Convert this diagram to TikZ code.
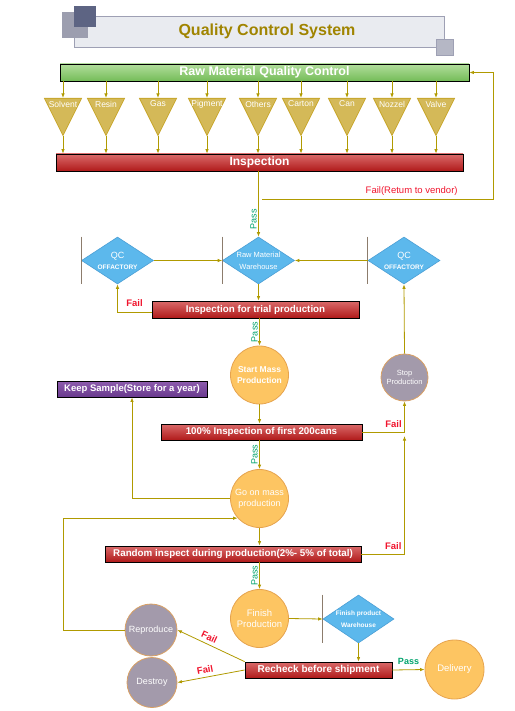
\documentclass[tikz,border=0pt]{standalone}
\usepackage{fontspec}
\setmainfont{Liberation Sans}
\usetikzlibrary{shapes.geometric,arrows.meta,positioning}

\definecolor{lineolive}{RGB}{176,154,0}
\definecolor{titlegold}{RGB}{160,132,0}
\definecolor{titlefill}{RGB}{233,235,240}
\definecolor{titleedge}{RGB}{158,160,180}
\definecolor{sqdark}{RGB}{93,100,131}
\definecolor{sqlight}{RGB}{156,158,175}
\definecolor{sqsmall}{RGB}{181,183,197}
\definecolor{greentop}{RGB}{178,222,156}
\definecolor{greenbot}{RGB}{116,188,88}
\definecolor{redtop}{RGB}{218,106,106}
\definecolor{redbot}{RGB}{176,26,26}
\definecolor{purptop}{RGB}{142,92,174}
\definecolor{purpbot}{RGB}{105,58,142}
\definecolor{trifill}{RGB}{212,185,88}
\definecolor{triedge}{RGB}{200,168,48}
\definecolor{diafill}{RGB}{92,184,236}
\definecolor{diaedge}{RGB}{76,159,213}
\definecolor{sidegray}{RGB}{140,124,108}
\definecolor{orangefill}{RGB}{253,197,98}
\definecolor{orangeedge}{RGB}{230,163,78}
\definecolor{grayfill}{RGB}{163,154,171}
\definecolor{grayedge}{RGB}{217,160,99}
\definecolor{passgreen}{RGB}{0,163,108}
\definecolor{failred}{RGB}{240,20,45}

\tikzset{
  flow/.style={draw=lineolive, line width=0.8pt, -{Latex[length=4.5pt,width=3.5pt]}},
  wire/.style={draw=lineolive, line width=0.8pt},
  bar/.style={draw=black, line width=0.8pt, rectangle, inner sep=0pt, text=white, minimum height=16pt},
  greenbar/.style={bar, top color=greentop, bottom color=greenbot},
  redbar/.style={bar, top color=redtop, bottom color=redbot, font=\fontsize{9.8}{11}\selectfont\bfseries},
  purplebar/.style={bar, top color=purptop, bottom color=purpbot, font=\fontsize{9.5}{11}\selectfont\bfseries},
  tri/.style={isosceles triangle, isosceles triangle stretches, shape border rotate=270,
    minimum width=37pt, minimum height=37pt, inner sep=0pt, fill=trifill, draw=triedge, line width=0.8pt},
  trilabel/.style={text=white, inner sep=0pt, font=\fontsize{8.5}{10}\selectfont},
  dia/.style={diamond, minimum width=72pt, minimum height=47pt, inner sep=0pt, fill=diafill, draw=diaedge, line width=0.6pt},
  dialbl/.style={text=white, align=center, inner sep=0pt},
  sideline/.style={draw=sidegray, line width=0.8pt},
  orangec/.style={circle, minimum size=58pt, inner sep=0pt, fill=orangefill, draw=orangeedge, line width=0.8pt,
    text=white, align=center},
  grayc/.style={circle, inner sep=0pt, fill=grayfill, draw=grayedge, line width=0.8pt, text=white, align=center},
  passv/.style={rotate=90, anchor=south, text=passgreen, inner sep=1.5pt, font=\fontsize{9}{10}\selectfont},
  failtxt/.style={text=failred, font=\fontsize{9.5}{10}\selectfont\bfseries},
  sq/.style={rectangle, inner sep=0pt},
}

\begin{document}
\begin{tikzpicture}[x=1pt, y=-1pt]
  \useasboundingbox (0,0) rectangle (514,711);

  % Title
  \node[rectangle, fill=titlefill, draw=titleedge, line width=0.8pt, minimum width=370pt, minimum height=31pt] (title) at (259.5,31.5) {};
  \node[sq, fill=sqlight, minimum width=26pt, minimum height=26pt] (sqa) at (75,25) {};
  \node[sq, fill=sqdark, minimum width=22pt, minimum height=21pt] (sqb) at (85,16.5) {};
  \node[sq, fill=sqsmall, draw=titleedge, line width=0.6pt, minimum width=17pt, minimum height=16pt] (sqc) at (444.5,47) {};
  \node[text=titlegold, font=\fontsize{16}{18}\selectfont\bfseries] (titletxt) at (267,31) {Quality Control System};

  % Raw material check
  \node[greenbar, minimum width=409pt, minimum height=17pt, font=\fontsize{12.5}{14}\selectfont\bfseries] (rawqc) at (264.5,72.5) {Raw Material Quality Control};
  \node[redbar, minimum width=407pt, minimum height=17pt, font=\fontsize{12}{14}\selectfont\bfseries] (insp) at (259.5,162.5) {Inspection};
  \foreach \x/\name/\txt in {63/solvent/Solvent, 106/resin/Resin, 158/gas/Gas, 207/pigment/Pigment,
      258/others/Others, 301/carton/Carton, 347/can/Can, 392/nozzel/Nozzel, 436/valve/Valve}{
    \node[tri, anchor=lower side] (\name) at (\x,98) {};
    \node[trilabel] (\name-l) at (\x,104) {\txt};
    \draw[flow] (rawqc.south -| \name.lower side) -- (\name.lower side);
    \draw[flow] (\name.apex) -- (\name.apex |- insp.north);
  }

  % Warehouse row
  \node[dia, label={[dialbl]center:{\fontsize{9}{11}\selectfont QC\\[-1pt]\fontsize{6.5}{8}\selectfont\bfseries OFFACTORY}}] (qcl) at (117.5,260.5) {};
  \node[dia, label={[dialbl]center:{\fontsize{7.5}{9}\selectfont Raw Material\\\fontsize{7.5}{9}\selectfont Warehouse}}] (rmw) at (258.5,260.5) {};
  \node[dia, label={[dialbl]center:{\fontsize{9}{11}\selectfont QC\\[-1pt]\fontsize{6.5}{8}\selectfont\bfseries OFFACTORY}}] (qcr) at (404,260.5) {};
  \foreach \d in {qcl,rmw,qcr}{
    \draw[sideline] (\d.north -| \d.west) -- (\d.south -| \d.west);
  }
  \coordinate (ret) at (262,199);
  \draw[flow] (insp.south -| rmw.north) -- node[passv, pos=0.73] {Pass} (rmw.north);
  \draw[flow] (ret) -| node[pos=0.43, anchor=south east, text=failred, inner sep=3pt, font=\fontsize{9.5}{10}\selectfont] {Fail(Retum to vendor)} ([xshift=24pt]rawqc.east) -- (rawqc.east);
  \draw[flow] (qcl.east) -- (rmw.west);
  \draw[flow] (qcr.west) -- (rmw.east);

  % Production
  \node[redbar, minimum width=207pt, minimum height=17pt] (trial) at (255.5,309.5) {Inspection for trial production};
  \node[orangec, font=\fontsize{8.5}{10.5}\selectfont\bfseries] (start) at (259.5,375) {Start Mass\\Production};
  \node[grayc, minimum size=47pt, font=\fontsize{7.5}{9.5}\selectfont] (stop) at (404.5,377.5) {Stop\\Production};
  \node[purplebar, minimum width=150pt] (keep) at (132,389) {Keep Sample(Store for a year)};
  \node[redbar, minimum width=201pt] (hundred) at (261.5,432) {100\%  Inspection of first 200cans};
  \node[orangec, font=\fontsize{9}{11}\selectfont] (goon) at (259.5,498.5) {Go on mass\\production};
  \node[redbar, minimum width=256pt] (random) at (233,554) {Random inspect during production(2\%- 5\%  of total)};

  \draw[flow] (rmw.south) -- (rmw.south |- trial.north);
  \draw[flow] ([yshift=-3pt]trial.west) -| node[failtxt, pos=0.25, above=2pt] {Fail} (qcl.south);
  \draw[flow] (trial.south -| start.north) -- node[passv, pos=0.5] {Pass} (start.north);
  \draw[flow] (start.south) -- (start.south |- hundred.north);
  \draw[flow] (hundred.east) -| node[failtxt, pos=0.37, above=1pt] {Fail} (stop.south);
  \draw[flow] (stop.north) -- (qcr.south);
  \draw[flow] (hundred.south -| goon.north) -- node[passv, pos=0.5] {Pass} (goon.north);
  \draw[flow] (goon.west) -| (keep.south);
  \draw[flow] (goon.south) -- (goon.south |- random.north);
  \draw[flow] (random.east) -| node[failtxt, pos=0.37, above=1pt] {Fail} ([yshift=-4pt]stop.south |- hundred.east);

  % Shipment
  \node[orangec, font=\fontsize{9.5}{11.5}\selectfont] (finish) at (259.5,618.5) {Finish\\Production};
  \node[dia, minimum width=71pt, minimum height=48pt, label={[dialbl]center:{\fontsize{6.5}{9}\selectfont\bfseries Finish product\\\fontsize{6.5}{9}\selectfont\bfseries Warehouse}}] (fpw) at (358.5,619) {};
  \draw[sideline] (fpw.north -| fpw.west) -- (fpw.south -| fpw.west);
  \node[redbar, minimum width=147pt, font=\fontsize{10}{12}\selectfont\bfseries] (recheck) at (318.5,670) {Recheck  before shipment};
  \node[orangec, minimum size=59pt, font=\fontsize{9.5}{11.5}\selectfont] (delivery) at (454.5,669.5) {Delivery};
  \node[grayc, minimum size=52pt, font=\fontsize{9}{11}\selectfont] (reproduce) at (151,630) {Reproduce};
  \node[grayc, minimum size=50pt, font=\fontsize{9}{11}\selectfont] (destroy) at (152,682.5) {Destroy};

  \draw[flow] (random.south -| finish.north) -- node[passv, pos=0.5] {Pass} (finish.north);
  \draw[flow] (finish.east) -- (fpw.west);
  \draw[flow] (fpw.south) -- (fpw.south |- recheck.north);
  \draw[flow] (recheck.east) -- node[above=1pt, text=passgreen, font=\fontsize{9}{10}\selectfont\bfseries] {Pass} (delivery.west);
  \draw[flow] (recheck.north west) -- node[failtxt, sloped, above=0pt, pos=0.57] {Fail} (reproduce.east);
  \draw[flow] (recheck.west) -- node[failtxt, sloped, above=0pt, pos=0.57] {Fail} (destroy.east);
  \draw[flow] (reproduce.west) -- ++(-61,0) |- (goon.222);
\end{tikzpicture}
\end{document}
